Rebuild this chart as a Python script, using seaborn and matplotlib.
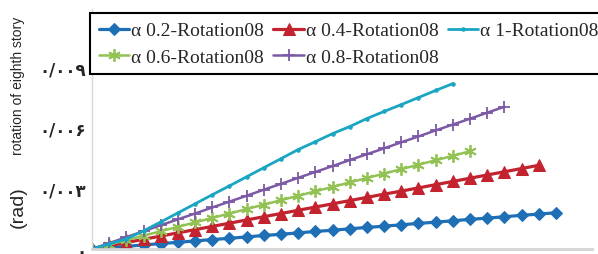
# -*- coding: utf-8 -*-
# %% imports
import numpy as np
import pandas as pd
import matplotlib
matplotlib.use('Agg')
import matplotlib.pyplot as plt
import seaborn as sns

# %% values (rad, per load step)
rot_a02 = [0, .00007, .00013, .0002, .00027, .00033, .0004, .00047, .00053, .0006,
           .00067, .00073, .0008, .00087, .00093, .001, .00107, .00113, .0012, .00127,
           .00133, .0014, .00147, .00153, .0016, .00167, .00173, .0018]
rot_a04 = [0, .00016, .00032, .00048, .00064, .0008, .00096, .00112, .00128, .00144,
           .0016, .00176, .00192, .00208, .00224, .0024, .00256, .00272, .00287, .00303,
           .00319, .00335, .00351, .00367, .00383, .00399, .00415]
rot_a06 = [0, .00022, .00044, .00066, .00088, .0011, .00132, .00154, .00176, .00198,
           .0022, .00242, .00264, .00286, .00308, .0033, .00352, .00374, .00396, .00418,
           .0044, .00462, .00485]
rot_a08 = [0, .00029, .00059, .00088, .00118, .00147, .00176, .00206, .00235, .00264,
           .00294, .00323, .00353, .00382, .00411, .00441, .0047, .00499, .00529, .00558,
           .00588, .00617, .00646, .00676, .00705]
rot_a1 = [0, .00025, .0005, .0009, .00134, .00179, .00224, .00269, .00313, .00358,
          .00403, .00448, .00493, .00532, .00572, .00607, .00647, .00682, .00716, .00751,
          .00786, .0082]

labels = ['α 0.2-Rotation08', 'α 0.4-Rotation08', 'α 0.6-Rotation08',
          'α 0.8-Rotation08', 'α 1-Rotation08']
ytick_vals = [0, 0.003, 0.006, 0.009]
ytick_labels = ['۰', '۰/۰۰۳', '۰/۰۰۶', '۰/۰۰۹']

# %% long-form table
series = [rot_a02, rot_a04, rot_a06, rot_a08, rot_a1]
df = pd.concat([pd.DataFrame({'step': np.arange(len(v)), 'rot': v, 'series': lab})
                for lab, v in zip(labels, series)], ignore_index=True)

colors = dict(zip(labels, ['#1f6fb6', '#c3232e', '#92c154', '#7b59a5', '#1aa6c2']))
styles = dict(zip(labels, [dict(marker='D', markersize=6, lw=2.3),
                           dict(marker='^', markersize=8, lw=2.3),
                           dict(marker=(6, 2, 0), markersize=9, lw=1.8, markeredgewidth=1.3),
                           dict(marker='+', markersize=9, lw=1.8, markeredgewidth=1.3),
                           dict(marker='o', markersize=2.5, lw=2.0)]))

sns.set_style('white')
plt.rcParams['font.family'] = ['DejaVu Sans']

fig = plt.figure(figsize=(5.98, 2.55), dpi=100)
ax = fig.add_axes([92 / 598, 5 / 255, 500 / 598, 240 / 255])

handles = {}
for lab in labels:
    sub = df[df['series'] == lab]
    sns.lineplot(data=sub, x='step', y='rot', ax=ax, color=colors[lab],
                 legend=False, markeredgecolor=colors[lab], **styles[lab])
    handles[lab] = ax.get_lines()[-1]

ax.set_xlim(0, 29.1)
ax.set_ylim(0, 0.0119)
ax.set_xticks([])
ax.set_yticks(ytick_vals)
ax.set_yticklabels(ytick_labels, fontsize=12, fontweight='bold')
ax.tick_params(axis='y', length=0, pad=4)
ax.set_xlabel('')
ax.set_ylabel('')
for s in ['top', 'right']:
    ax.spines[s].set_visible(False)
ax.spines['left'].set_color('#d9d9d9')
ax.spines['left'].set_linewidth(1)
ax.spines['bottom'].set_color('#d4d4d4')
ax.spines['bottom'].set_linewidth(2)

fig.text(18 / 598, 1 - 86 / 255, 'rotation of eighth story', rotation=90,
         fontsize=10, family='Liberation Sans', ha='center', va='center')
fig.text(18 / 598, 1 - 207 / 255, '(rad)', rotation=90,
         fontsize=14, family='Liberation Sans', ha='center', va='center')

order = [labels[0], labels[2], labels[1], labels[3], labels[4]]
leg = fig.legend([handles[k] for k in order], order, loc='upper left',
                 bbox_to_anchor=(90 / 598, 1 - 14 / 255), ncol=3, frameon=True,
                 fancybox=False, borderaxespad=0, handlelength=1.55,
                 handletextpad=0.1, columnspacing=0.5, labelspacing=0.45,
                 borderpad=0.45, prop={'family': 'Liberation Serif', 'size': 14})
leg.get_frame().set_edgecolor('black')
leg.get_frame().set_linewidth(1.5)
leg.get_frame().set_alpha(1)

plt.savefig('out.png', dpi=100)
